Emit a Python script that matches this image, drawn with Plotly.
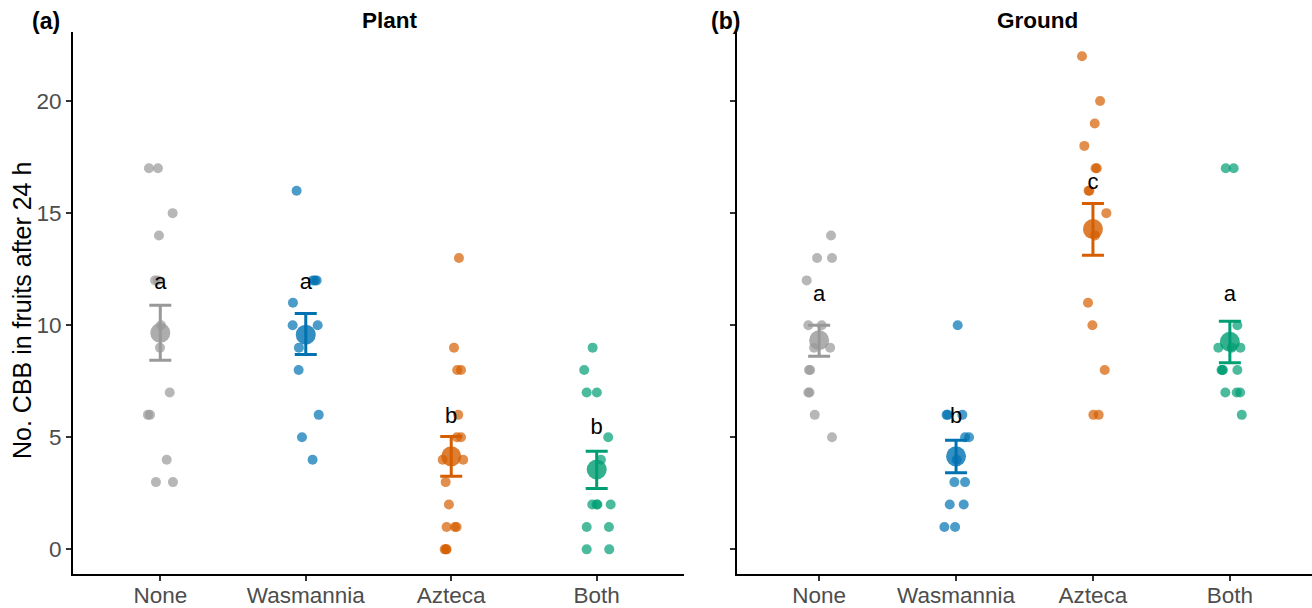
import plotly.graph_objects as go

categories = ["None", "Wasmannia", "Azteca", "Both"]
panels = ["Plant", "Ground"]
panel_tags = ["(a)", "(b)"]
y_ticks = [0, 5, 10, 15, 20]

# Plant panel: raw counts per treatment and their horizontal jitter
plant_none = [17, 17, 15, 14, 12, 12, 10, 9, 7, 6, 6, 4, 3, 3]
plant_none_jit = [-0.078, -0.016, 0.085, -0.009, -0.036, -0.016, 0.005, -0.002, 0.065, -0.085, -0.071, 0.044, -0.03, 0.087]
plant_wasm = [16, 12, 12, 12, 11, 10, 10, 9, 8, 6, 5, 4]
plant_wasm_jit = [-0.063, 0.049, 0.075, 0.063, -0.088, -0.09, 0.082, -0.047, -0.049, 0.089, -0.026, 0.047]
plant_azt = [13, 9, 8, 8, 6, 5, 5, 4, 4, 3, 2, 1, 1, 1, 0, 0, 0]
plant_azt_jit = [0.053, 0.019, 0.041, 0.067, 0.048, 0.039, 0.067, -0.059, 0.082, -0.038, -0.016, -0.032, 0.037, 0.025, -0.045, -0.032, -0.036]
plant_both = [9, 8, 7, 7, 5, 4, 2, 2, 2, 2, 1, 1, 0, 0]
plant_both_jit = [-0.028, -0.086, -0.069, 0.001, 0.079, 0.029, -0.031, -0.001, 0.005, 0.096, -0.069, 0.084, -0.069, 0.086]

# Ground panel
ground_none = [14, 13, 13, 12, 10, 10, 9, 9, 8, 8, 7, 7, 6, 5]
ground_none_jit = [0.087, -0.015, 0.094, -0.091, -0.079, 0.019, -0.037, 0.08, -0.074, -0.066, -0.079, -0.07, -0.032, 0.094]
ground_wasm = [10, 6, 6, 6, 5, 5, 4, 3, 3, 2, 2, 1, 1]
ground_wasm_jit = [0.012, -0.061, -0.069, 0.046, 0.066, 0.095, 0.005, -0.012, 0.066, -0.046, 0.056, -0.085, -0.007]
ground_azt = [22, 20, 19, 18, 17, 17, 16, 16, 15, 14, 11, 10, 8, 6, 6]
ground_azt_jit = [-0.08, 0.052, 0.013, -0.063, 0.028, 0.019, -0.026, -0.032, 0.098, 0.015, -0.036, -0.004, 0.086, 0.003, 0.042]
ground_both = [17, 17, 10, 9, 9, 9, 8, 8, 8, 8, 7, 7, 7, 6]
ground_both_jit = [-0.03, 0.028, 0.055, -0.084, 0.014, 0.077, -0.055, -0.061, 0.055, -0.051, -0.033, 0.05, 0.075, 0.087]

# Means and standard-error limits
plant_mean = [9.66, 9.58, 4.15, 3.56]
plant_upper = [10.89, 10.52, 5.04, 4.38]
plant_lower = [8.44, 8.69, 3.26, 2.71]
ground_mean = [9.33, 4.15, 14.29, 9.26]
ground_upper = [10.0, 4.87, 15.43, 10.18]
ground_lower = [8.62, 3.42, 13.12, 8.33]

# Significance letters
plant_letters = ["a", "a", "b", "b"]
plant_letter_y = [11.86, 11.86, 5.9, 5.39]
ground_letters = ["a", "b", "c", "a"]
ground_letter_y = [11.34, 5.9, 16.32, 11.34]

colors = ["#999999", "#0072B2", "#D55E00", "#009E73"]

W, H = 1312, 608
FONT = "Liberation Sans, Arial, Helvetica, sans-serif"

raw = [
    [(plant_none, plant_none_jit), (plant_wasm, plant_wasm_jit), (plant_azt, plant_azt_jit), (plant_both, plant_both_jit)],
    [(ground_none, ground_none_jit), (ground_wasm, ground_wasm_jit), (ground_azt, ground_azt_jit), (ground_both, ground_both_jit)],
]
means = [plant_mean, ground_mean]
uppers = [plant_upper, ground_upper]
lowers = [plant_lower, ground_lower]
letters = [plant_letters, ground_letters]
letter_ys = [plant_letter_y, ground_letter_y]

fig = go.Figure()
for p in range(2):
    xa = "x" if p == 0 else "x2"
    ya = "y" if p == 0 else "y2"
    for g in range(4):
        vals, jit = raw[p][g]
        fig.add_trace(go.Scatter(
            x=[g + 1 + j for j in jit], y=vals, mode="markers",
            marker=dict(size=10, color=colors[g], opacity=0.7, line=dict(width=0)),
            xaxis=xa, yaxis=ya, showlegend=False, hoverinfo="y"))
    for g in range(4):
        fig.add_trace(go.Scatter(
            x=[g + 1], y=[means[p][g]], mode="markers",
            marker=dict(size=20, color=colors[g], opacity=0.8, line=dict(width=0)),
            xaxis=xa, yaxis=ya, showlegend=False))
        fig.add_trace(go.Scatter(
            x=[g + 1], y=[means[p][g]], mode="markers",
            marker=dict(size=1, color="rgba(0,0,0,0)"),
            error_y=dict(type="data", symmetric=False,
                         array=[uppers[p][g] - means[p][g]],
                         arrayminus=[means[p][g] - lowers[p][g]],
                         color=colors[g], thickness=3, width=11),
            xaxis=xa, yaxis=ya, showlegend=False))
    fig.add_trace(go.Scatter(
        x=[1, 2, 3, 4], y=letter_ys[p], mode="text", text=letters[p],
        textfont=dict(family=FONT, size=22, color="black"),
        textposition="middle center", xaxis=xa, yaxis=ya, showlegend=False))

axis_common = dict(
    showline=True, linecolor="black", linewidth=2, mirror=False,
    ticks="outside", ticklen=5, tickwidth=1.5, tickcolor="#333333",
    showgrid=False, zeroline=False,
    tickfont=dict(family=FONT, size=22.5, color="#4d4d4d"),
)

y0 = (H - 574) / H
y1 = (H - 31.6) / H
fig.update_layout(
    width=W, height=H,
    margin=dict(l=0, r=0, t=0, b=0, autoexpand=False),
    paper_bgcolor="white", plot_bgcolor="white",
    xaxis=dict(domain=[73 / W, 684 / W], range=[0.4, 4.6], ticklabelstandoff=-5,
               tickvals=[1, 2, 3, 4], ticktext=categories, **axis_common),
    xaxis2=dict(domain=[737 / W, 1.0], range=[0.4, 4.6], anchor="y2", ticklabelstandoff=-5,
                tickvals=[1, 2, 3, 4], ticktext=categories, **axis_common),
    yaxis=dict(domain=[y0, y1], range=[-1.1, 23.1], tickvals=y_ticks, **axis_common),
    yaxis2=dict(domain=[y0, y1], range=[-1.1, 23.1], tickvals=y_ticks, anchor="x2",
                showticklabels=False, **axis_common),
    showlegend=False,
)

annotations = [
    dict(text="No. CBB in fruits after 24 h", x=22 / W, y=(H - 311) / H, xref="paper", yref="paper",
         textangle=-90, showarrow=False, font=dict(family=FONT, size=25, color="black"),
         xanchor="center", yanchor="middle"),
    dict(text="<b>" + panels[0] + "</b>", x=390 / W, y=(H - 21) / H, xref="paper", yref="paper",
         showarrow=False, font=dict(family=FONT, size=22.5, color="black"), xanchor="center", yanchor="middle"),
    dict(text="<b>" + panels[1] + "</b>", x=1037 / W, y=(H - 21) / H, xref="paper", yref="paper",
         showarrow=False, font=dict(family=FONT, size=22.5, color="black"), xanchor="center", yanchor="middle"),
    dict(text="<b>" + panel_tags[0] + "</b>", x=46 / W, y=(H - 21) / H, xref="paper", yref="paper",
         showarrow=False, font=dict(family=FONT, size=23, color="black"), xanchor="center", yanchor="middle"),
    dict(text="<b>" + panel_tags[1] + "</b>", x=725 / W, y=(H - 21) / H, xref="paper", yref="paper",
         showarrow=False, font=dict(family=FONT, size=23, color="black"), xanchor="center", yanchor="middle"),
]
fig.update_layout(annotations=annotations)

fig.write_html("out.html", config={"displayModeBar": False},
               post_script="document.body.style.margin='0px';document.body.style.overflow='hidden';")
